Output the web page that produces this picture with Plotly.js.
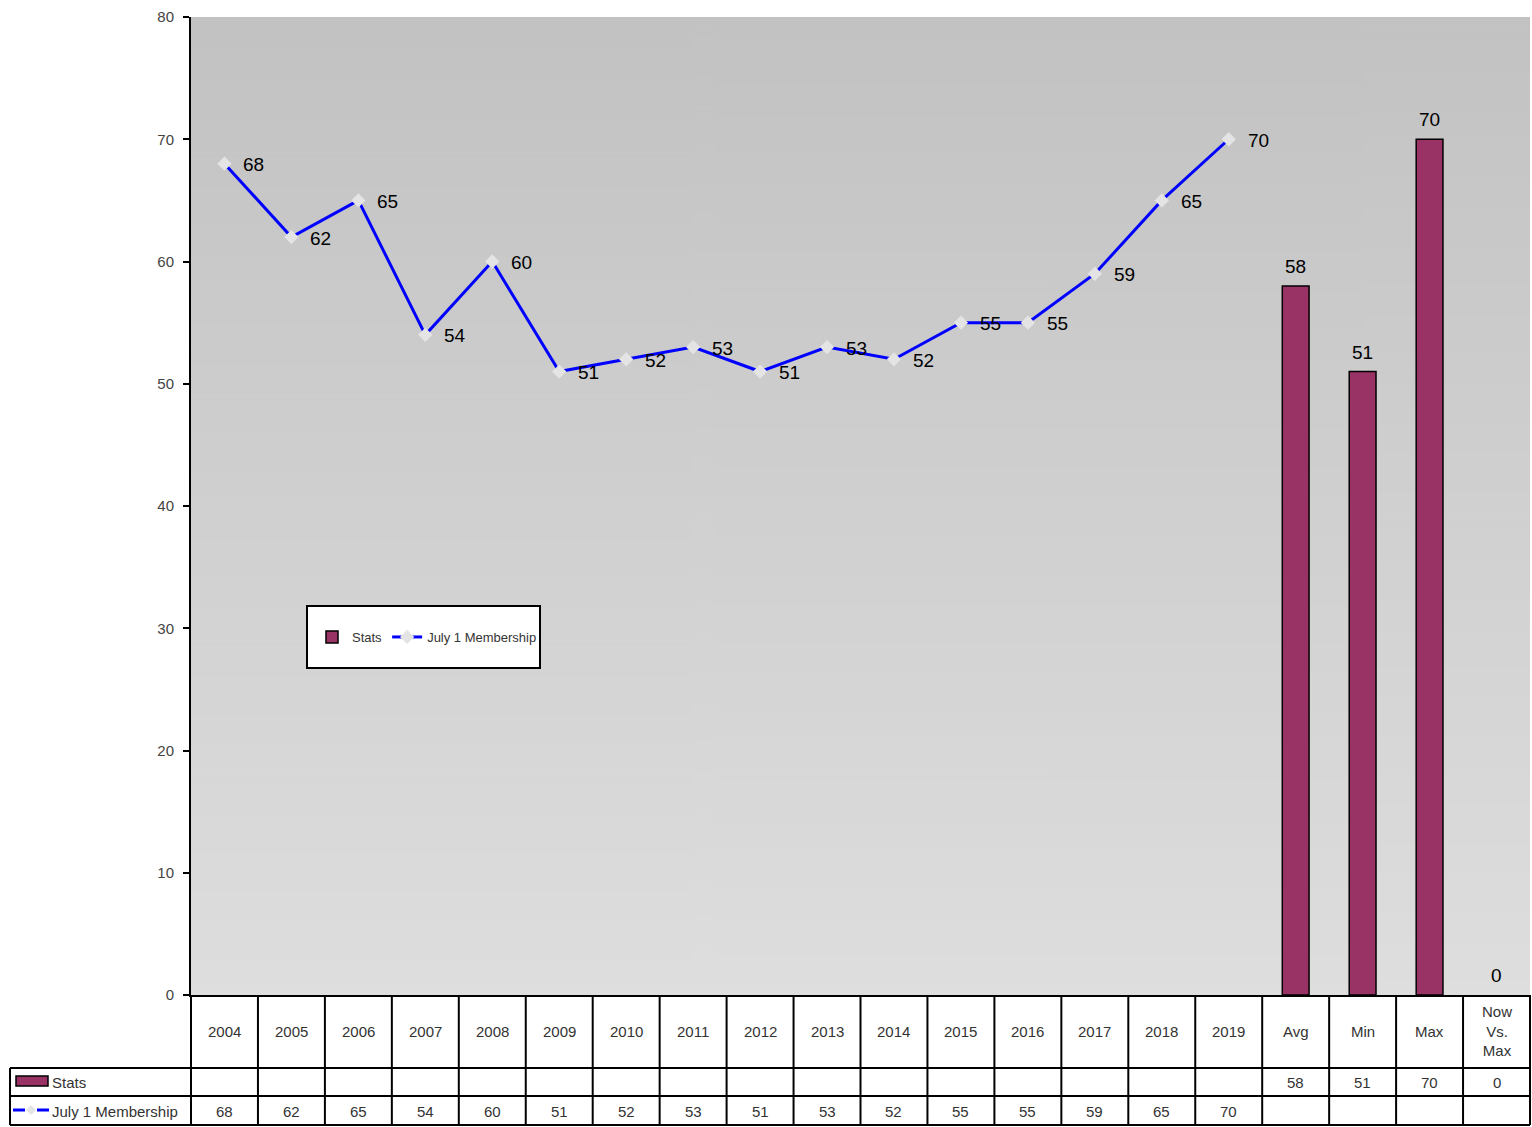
<!DOCTYPE html>
<html><head><meta charset="utf-8">
<script src="https://cdn.plot.ly/plotly-3.0.1.min.js"></script>
<style>html,body{margin:0;padding:0;background:#fff}#chart{width:1532px;height:1127px}</style>
</head><body><div id="chart"></div>
<script>
// ---- data ----
const years = ['2004','2005','2006','2007','2008','2009','2010','2011','2012','2013','2014','2015','2016','2017','2018','2019'];
const membership = [68,62,65,54,60,51,52,53,51,53,52,55,55,59,65,70];
const statCats = ['Avg','Min','Max','Now Vs. Max'];
const statTickText = ['Avg','Min','Max','Now<br>Vs.<br>Max'];
const statValues = [58,51,70,0];
const seriesNames = ['Stats','July 1 Membership'];
const yTickVals = [0,10,20,30,40,50,60,70,80];

const allCats = years.concat(statCats);
const allTickText = years.concat(statTickText);
const pos = c => allCats.indexOf(c);   // category position on the x axis

// ---- geometry helpers (pixel -> paper) ----
const L=191, R=1530, T=17, B=995, W=1532, H=1127;
const px = x => (x-L)/(R-L);
const py = y => (B-y)/(B-T);

// gradient background image
const cv=document.createElement('canvas'); cv.width=4; cv.height=512;
const cx=cv.getContext('2d'); const g=cx.createLinearGradient(0,0,0,512);
g.addColorStop(0,'#c2c2c2'); g.addColorStop(1,'#dedede');
cx.fillStyle=g; cx.fillRect(0,0,4,512);
const bgURL=cv.toDataURL();

const FONT='Liberation Sans, Arial, sans-serif';

const traces=[
  {type:'bar', name:seriesNames[0], x:statCats, y:statValues, width:0.4,
   marker:{color:'#993366', line:{color:'#000', width:statValues.map(v=>v>0?1.5:0)}}, hoverinfo:'skip'},
  {type:'scatter', mode:'lines+markers', name:seriesNames[1], x:years, y:membership,
   line:{color:'#0000ff', width:3}, marker:{symbol:'diamond', size:11, color:'#e4e4e4'},
   cliponaxis:false, hoverinfo:'skip'}
];

const annotations=[];
const lfont={family:FONT,size:19,color:'#000'};
// point labels
years.forEach((c,i)=>annotations.push({x:pos(c),y:membership[i],xref:'x',yref:'y',text:String(membership[i]),
  showarrow:false,xanchor:'left',yanchor:'middle',xshift:17,yshift:-1,font:lfont}));
statCats.forEach((c,i)=>annotations.push({x:pos(c),y:statValues[i],xref:'x',yref:'y',text:String(statValues[i]),
  showarrow:false,xanchor:'center',yanchor:'bottom',yshift:7,font:lfont}));

// table rows
const rowHeadY=py(1031), rowStatY=py(1082), rowMemY=py(1111);
const tfont={family:FONT,size:15,color:'#333'};
allCats.forEach((c,i)=>annotations.push({x:i,y:rowHeadY,xref:'x',yref:'paper',text:allTickText[i],showarrow:false,
  xanchor:'center',yanchor:'middle',font:tfont}));
statCats.forEach((c,i)=>annotations.push({x:pos(c),y:rowStatY,xref:'x',yref:'paper',text:String(statValues[i]),showarrow:false,
  xanchor:'center',yanchor:'middle',font:tfont}));
years.forEach((c,i)=>annotations.push({x:pos(c),y:rowMemY,xref:'x',yref:'paper',text:String(membership[i]),showarrow:false,
  xanchor:'center',yanchor:'middle',font:tfont}));
annotations.push({x:px(50),y:rowStatY,xref:'paper',yref:'paper',text:seriesNames[0],showarrow:false,xanchor:'left',yanchor:'middle',font:tfont});
annotations.push({x:px(50),y:rowMemY,xref:'paper',yref:'paper',text:seriesNames[1],showarrow:false,xanchor:'left',yanchor:'middle',font:tfont});

const shapes=[];
const ln=(x0,y0,x1,y1,extra)=>shapes.push(Object.assign({type:'line',xref:'paper',yref:'paper',x0:px(x0),y0:py(y0),x1:px(x1),y1:py(y1),line:{color:'#000',width:2}},extra||{}));
const n=allCats.length;
for(let i=0;i<=n;i++){const x=L+(R-L)*i/n; ln(x,995,x,1125);}
ln(10,1068,R,1068); ln(10,1096,R,1096); ln(10,1125,R,1125);
ln(10,1068,10,1125);
// table legend keys
shapes.push({type:'rect',xref:'paper',yref:'paper',x0:px(16),x1:px(48),y0:py(1076),y1:py(1086),fillcolor:'#993366',line:{color:'#000',width:1.5}});
ln(13,1110,25,1110,{line:{color:'#0000ff',width:3}});
ln(37,1110,49,1110,{line:{color:'#0000ff',width:3}});
shapes.push({type:'path',xref:'paper',yref:'paper',
  path:`M ${px(31)} ${py(1105)} L ${px(36)} ${py(1110)} L ${px(31)} ${py(1115)} L ${px(26)} ${py(1110)} Z`,
  fillcolor:'#e4e4e4',line:{width:0}});
// legend box
shapes.push({type:'rect',xref:'paper',yref:'paper',x0:px(307),x1:px(540),y0:py(606),y1:py(668),fillcolor:'#fff',line:{color:'#000',width:2},layer:'below'});

const layout={
  width:W,height:H,margin:{l:L,r:W-R,t:T,b:H-B,pad:0},
  paper_bgcolor:'#fff', plot_bgcolor:'rgba(0,0,0,0)',
  font:{family:FONT,size:14,color:'#333'},
  images:[{source:bgURL,xref:'paper',yref:'paper',x:0,y:1,sizex:1,sizey:1,sizing:'stretch',xanchor:'left',yanchor:'top',layer:'below'}],
  xaxis:{type:'category',categoryorder:'array',categoryarray:allCats,range:[-0.5,n-0.5],showticklabels:false,ticks:'',
    showline:true,linecolor:'#000',linewidth:2,showgrid:false,zeroline:false,fixedrange:true},
  yaxis:{range:[0,80],tickvals:yTickVals,ticks:'outside',ticklen:6,tickwidth:2,tickcolor:'#000',
    showline:true,linecolor:'#000',linewidth:2,showgrid:false,zeroline:false,
    tickfont:{family:FONT,size:15,color:'#444'},ticklabelstandoff:6,fixedrange:true},
  showlegend:true,
  legend:{orientation:'h',x:px(312),y:py(637),xanchor:'left',yanchor:'middle',bgcolor:'rgba(0,0,0,0)',borderwidth:0,
    font:{family:FONT,size:13,color:'#333'},itemwidth:30,traceorder:'normal'},
  annotations:annotations, shapes:shapes
};
Plotly.newPlot('chart',traces,layout,{staticPlot:true,displayModeBar:false});
</script></body></html>
